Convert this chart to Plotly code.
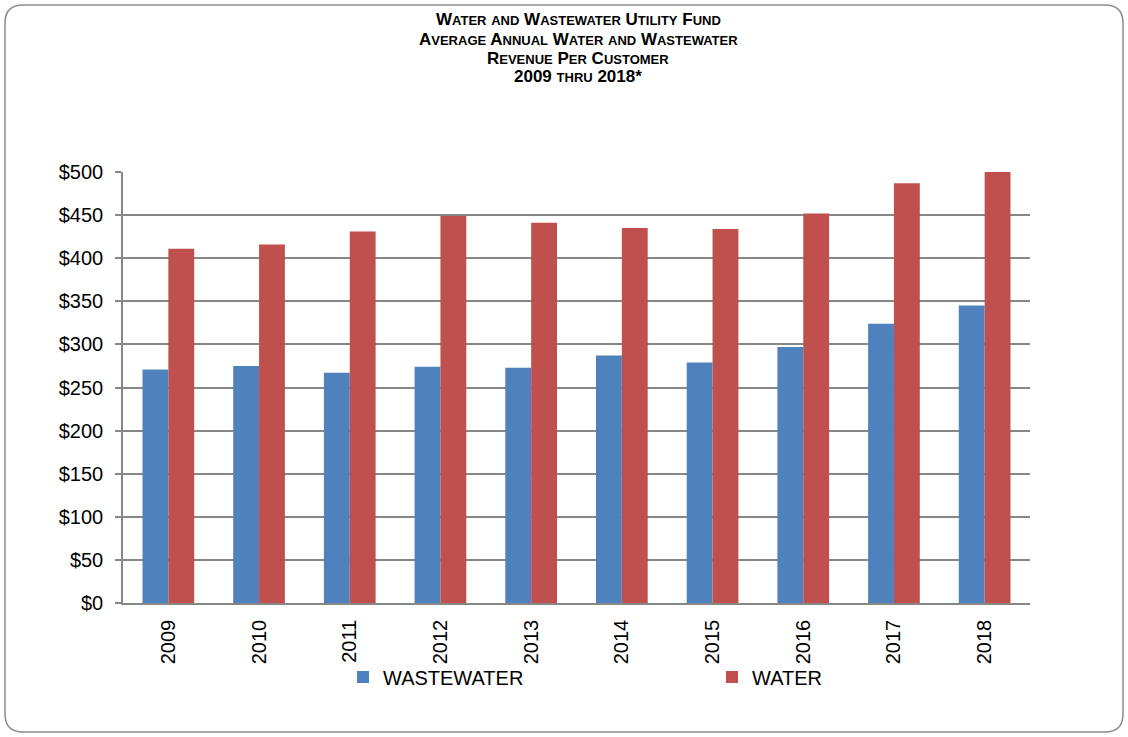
import plotly.graph_objects as go

years = ["2009", "2010", "2011", "2012", "2013", "2014", "2015", "2016", "2017", "2018"]
wastewater = [271, 275, 267, 274, 273, 287, 279, 297, 324, 345]
water = [411, 416, 431, 449, 441, 435, 434, 452, 487, 500]
tick_vals = [0, 50, 100, 150, 200, 250, 300, 350, 400, 450, 500]
tick_text = ["$0", "$50", "$100", "$150", "$200", "$250", "$300", "$350", "$400", "$450", "$500"]
title_lines = [
    "Water and Wastewater Utility Fund",
    "Average Annual Water and Wastewater",
    "Revenue Per Customer",
    "2009 thru 2018*",
]

FONT = "Arial, Liberation Sans, sans-serif"
W, H = 1128, 737
ml, mr, mt, mb = 123, 98, 172, 134
pw, ph = W - ml - mr, H - mt - mb


def sc(text, small=13):
    """Emulate small caps: leading letters of words big, rest small."""
    out = []
    for word in text.split(" "):
        if word.isupper() or any(c.isdigit() for c in word):
            out.append(word)
        elif word and word[0].isupper():
            out.append(word[0] + "<span style='font-size:%dpx'>%s</span>" % (small, word[1:].upper()))
        else:
            out.append("<span style='font-size:%dpx'>%s</span>" % (small, word.upper()))
    return " ".join(out)


fig = go.Figure()
fig.add_trace(go.Bar(x=years, y=wastewater, name="WASTEWATER",
                     marker=dict(color="#4F81BD", line=dict(width=0))))
fig.add_trace(go.Bar(x=years, y=water, name="WATER",
                     marker=dict(color="#C0504D", line=dict(width=0))))


def P(x, y):
    return "%f,%f" % ((x - ml) / pw, (H - mb - y) / ph)


# rounded outer border
x0, y0, x1, y1, r = 5, 5, 1123, 732, 18
path = ("M " + P(x0 + r, y0) + " L " + P(x1 - r, y0) + " Q " + P(x1, y0) + " " + P(x1, y0 + r) +
        " L " + P(x1, y1 - r) + " Q " + P(x1, y1) + " " + P(x1 - r, y1) +
        " L " + P(x0 + r, y1) + " Q " + P(x0, y1) + " " + P(x0, y1 - r) +
        " L " + P(x0, y0 + r) + " Q " + P(x0, y0) + " " + P(x0 + r, y0) + " Z")

title_y_px = [20, 39, 58, 77]
annotations = [
    dict(text="<b>" + sc(line) + "</b>", xref="paper", yref="paper",
         x=(578 - ml) / pw, y=(H - mb - ypx) / ph, xanchor="center", yanchor="middle",
         showarrow=False, font=dict(family=FONT, size=17, color="black"))
    for line, ypx in zip(title_lines, title_y_px)
]

fig.update_layout(
    width=W, height=H,
    margin=dict(l=ml, r=mr, t=mt, b=mb),
    paper_bgcolor="white", plot_bgcolor="white",
    font=dict(family=FONT, color="black"),
    barmode="group", bargap=0.43, bargroupgap=0,
    annotations=annotations,
    xaxis=dict(tickangle=-90, tickfont=dict(size=20), showline=True, linecolor="#878787",
               linewidth=1.5, ticks="outside", ticklen=7, tickcolor="rgba(0,0,0,0)",
               showgrid=False, mirror=False),
    yaxis=dict(range=[0, 500], tickvals=tick_vals, ticktext=tick_text, tickfont=dict(size=20),
               showgrid=True, gridcolor="#878787", gridwidth=1.5, showline=True,
               linecolor="#878787", linewidth=1.5, ticks="outside", ticklen=6,
               tickcolor="#878787", tickwidth=1.5, zeroline=False, ticklabelstandoff=8),
    legend=dict(orientation="h", x=(343 - ml) / pw, xanchor="left", y=-74 / ph, yanchor="middle",
                font=dict(size=20), entrywidth=324, traceorder="normal",
                bgcolor="rgba(0,0,0,0)"),
    shapes=[dict(type="path", xref="paper", yref="paper", path=path,
                 line=dict(color="#8C8C8C", width=1.5), fillcolor="rgba(0,0,0,0)", layer="below")],
)

fig.write_html("out.html", config={"displayModeBar": False},
               post_script="document.body.style.margin='0';")
